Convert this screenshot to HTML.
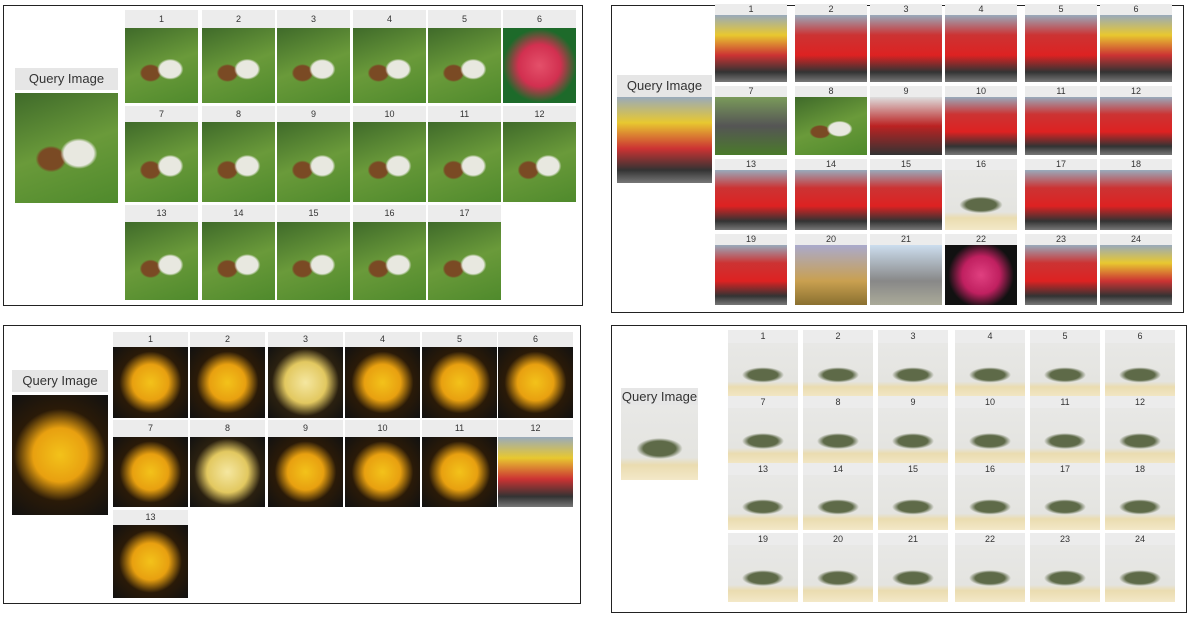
<!DOCTYPE html>
<html><head><meta charset="utf-8">
<style>
body{margin:0;width:1189px;height:618px;background:#fff;position:relative;overflow:hidden;font-family:"Liberation Sans",sans-serif}
.panel{position:absolute;border:1.5px solid #222;box-sizing:border-box;background:#fff}
.lbl{position:absolute;background:#ececec;font-size:9px;color:#333;text-align:center;line-height:14px}
.ql{position:absolute;background:#e6e6e6;font-size:13px;color:#333;text-align:center}
.img{position:absolute}
</style></head><body>
<div class="panel" style="left:3px;top:5px;width:580px;height:301px"></div>
<div class="panel" style="left:611px;top:5px;width:573px;height:308px"></div>
<div class="panel" style="left:3px;top:325px;width:578px;height:279px"></div>
<div class="panel" style="left:611px;top:325px;width:576px;height:288px"></div>
<script>
const green='radial-gradient(ellipse 18% 14% at 62% 55%,#e8e8e0 0,#e8e8e0 80%,transparent 100%),radial-gradient(ellipse 15% 12% at 35% 60%,#7a4a24 0,#7a4a24 80%,transparent 100%),linear-gradient(160deg,#3f6a2a,#6a9a3a 50%,#4f8a2c)';
const rose='radial-gradient(circle at 50% 50%,#f3c21a 0,#e8a010 35%,#2a1a08 60%,#111 100%)';
const roseLight='radial-gradient(circle at 50% 50%,#f5e7a0 0,#e2c860 40%,#2a2010 65%,#111 100%)';
const bus='linear-gradient(180deg,#9ab 0,#c33 30%,#d22 60%,#333 85%,#777)';
const busY='linear-gradient(180deg,#9ab 0,#e8c830 30%,#c33 60%,#333 85%,#777)';
const dino='radial-gradient(ellipse 30% 14% at 50% 58%,#5e6a48 0,#5e6a48 70%,transparent 100%),linear-gradient(180deg,#e8e8e6 0,#e4e4e0 70%,#eadcb0 80%,#f3e8c8 100%)';
const panels=[
 {name:'horse',q:[15,68,103,22,15,93,103,110,green],
  cols:[125,202,277,353,428,503],w:73,
  rows:[[10,28,75],[106,122,80],[205,222,78]],
  count:17,bg:i=>i==6?'radial-gradient(circle,#e4506a 0,#d23050 40%,#1d6a2a 70%)':green},
 {name:'bus',q:[617,75,95,22,617,97,95,86,busY],
  cols:[715,795,870,945,1025,1100],w:72,
  rows:[[4,15,67],[86,97,58],[159,170,60],[234,245,60]],
  count:24,bg:i=>i==7?'linear-gradient(#7a9a5a,#555 50%,#4a7a2a)':i==8?green:i==9?'linear-gradient(#ddd,#b22 50%,#333)':i==16?dino:i==20?'linear-gradient(#aac,#c9a050 60%,#8a7030)':i==21?'linear-gradient(#cde,#888 60%,#aa9)':i==22?'radial-gradient(circle,#e04080 0,#c02060 40%,#111 70%)':[1,6,24].includes(i)?busY:bus},
 {name:'rose',q:[12,370,96,22,12,395,96,120,rose],
  cols:[113,190,268,345,422,498],w:75,
  rows:[[332,347,71],[420,437,70],[510,525,73]],
  count:13,bg:i=>i==12?busY:[3,8].includes(i)?roseLight:rose},
 {name:'dinosaur',q:[621,388,77,17,621,405,77,75,dino],
  cols:[728,803,878,955,1030,1105],w:70,
  rows:[[330,343,55],[396,408,57],[463,475,55],[533,545,57]],
  count:24,bg:()=>dino}
];
panels.forEach(p=>{
 const q=p.q;
 const ql=document.createElement('div');ql.className='ql';
 
 
 ql.style.cssText=`left:${q[0]}px;top:${q[1]}px;width:${q[2]}px;height:${q[3]}px;line-height:${q[3]}px`;
 ql.textContent='Query Image';document.body.appendChild(ql);
 const qi=document.createElement('div');qi.className='img';
 
 
 qi.style.cssText=`left:${q[4]}px;top:${q[5]}px;width:${q[6]}px;height:${q[7]}px;background:${q[8]}`;
 document.body.appendChild(qi);
 let n=0;
 p.rows.forEach(r=>{p.cols.forEach(x=>{
  n++;if(n>p.count)return;
  const l=document.createElement('div');l.className='lbl';
  
  
  l.style.cssText=`left:${x}px;top:${r[0]}px;width:${p.w}px;height:${r[1]-r[0]}px;line-height:${r[1]-r[0]}px`;
  l.textContent=n;document.body.appendChild(l);
  const im=document.createElement('div');im.className='img';
  
  
  im.style.cssText=`left:${x}px;top:${r[1]}px;width:${p.w}px;height:${r[2]}px;background:${p.bg(n)}`;
  document.body.appendChild(im);
 });});
});
</script>
</body></html>
